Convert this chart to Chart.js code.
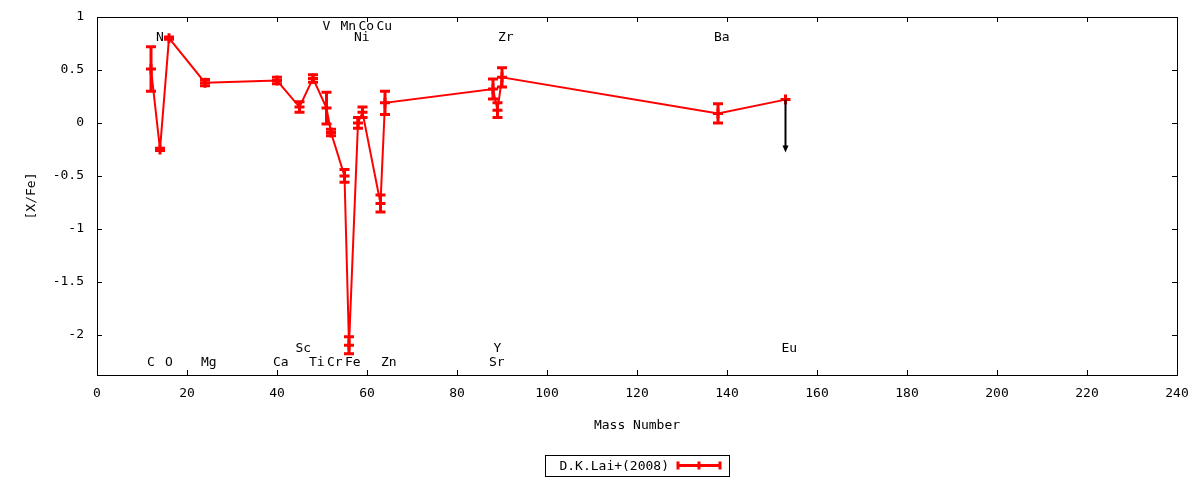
<!DOCTYPE html>
<html>
<head>
<meta charset="utf-8">
<script src="https://cdn.jsdelivr.net/npm/chart.js@4/dist/chart.umd.min.js"></script>
<style>
  html, body { margin: 0; padding: 0; background: #fff; }
  #wrap { width: 1200px; height: 480px; }
</style>
</head>
<body>
<div id="wrap"><canvas id="abund"></canvas></div>
<script>
// element abundances, D.K.Lai+(2008)
const elements = ['C', 'N', 'O', 'Mg', 'Ca', 'Sc', 'Ti', 'V', 'Cr', 'Mn', 'Fe', 'Ni', 'Co', 'Cu', 'Zn', 'Sr', 'Y', 'Zr', 'Ba', 'Eu'];
const massNumbers = [12, 14, 16, 24, 40, 45, 48, 51, 52, 55, 56, 58, 59, 63, 64, 88, 89, 90, 138, 153];
const xFe = [0.51, -0.25, 0.80, 0.38, 0.40, 0.15, 0.42, 0.14, -0.09, -0.50, -2.10, 0.00, 0.10, -0.76, 0.19, 0.32, 0.12, 0.43, 0.09, 0.22];
const xFeErr = [0.21, 0.01, 0.01, 0.03, 0.03, 0.05, 0.035, 0.15, 0.03, 0.06, 0.08, 0.05, 0.05, 0.08, 0.11, 0.095, 0.07, 0.09, 0.09, 0];
const upperLimit = [false, false, false, false, false, false, false, false, false, false, false, false, false, false, false, false, false, false, false, true];
// label rows: 1,2 above the data (top), 3,4 below (bottom)
const labelRow = [4, 2, 4, 4, 4, 3, 4, 1, 4, 1, 4, 2, 1, 1, 4, 4, 3, 2, 2, 3];
const xTicks = [0, 20, 40, 60, 80, 100, 120, 140, 160, 180, 200, 220, 240];
const yTicks = [1, 0.5, 0, -0.5, -1, -1.5, -2];

const FONT = '"DejaVu Sans Mono", "Liberation Mono", monospace';
const RED = '#ff0000';

const points = massNumbers.map((m, i) => ({ x: m, y: xFe[i] }));

const framePlugin = {
  id: 'frame',
  afterDraw(chart) {
    const { ctx, chartArea: a, scales: { x, y } } = chart;
    ctx.save();
    ctx.strokeStyle = '#000';
    ctx.lineWidth = 1;
    ctx.strokeRect(Math.round(a.left) + 0.5, Math.round(a.top) + 0.5,
      Math.round(a.right - a.left), Math.round(a.bottom - a.top));
    ctx.beginPath();
    xTicks.forEach(v => {
      const px = Math.round(x.getPixelForValue(v)) + 0.5;
      ctx.moveTo(px, a.bottom); ctx.lineTo(px, a.bottom - 5);
      ctx.moveTo(px, a.top); ctx.lineTo(px, a.top + 5);
    });
    yTicks.forEach(v => {
      const py = Math.round(y.getPixelForValue(v)) + 0.5;
      ctx.moveTo(a.left, py); ctx.lineTo(a.left + 5, py);
      ctx.moveTo(a.right, py); ctx.lineTo(a.right - 5, py);
    });
    ctx.stroke();
    ctx.restore();
  }
};

const errorBarPlugin = {
  id: 'errorBars',
  afterDatasetsDraw(chart) {
    const { ctx, scales: { x, y } } = chart;
    ctx.save();
    ctx.strokeStyle = RED;
    ctx.lineWidth = 3;
    massNumbers.forEach((m, i) => {
      if (upperLimit[i]) return;
      const px = x.getPixelForValue(m);
      const top = y.getPixelForValue(xFe[i] + xFeErr[i]);
      const bot = y.getPixelForValue(xFe[i] - xFeErr[i]);
      ctx.beginPath();
      ctx.moveTo(px, top); ctx.lineTo(px, bot);
      ctx.moveTo(px - 5, top); ctx.lineTo(px + 5, top);
      ctx.moveTo(px - 5, bot); ctx.lineTo(px + 5, bot);
      ctx.stroke();
    });
    // upper limit arrows
    ctx.strokeStyle = '#000';
    ctx.fillStyle = '#000';
    ctx.lineWidth = 2;
    massNumbers.forEach((m, i) => {
      if (!upperLimit[i]) return;
      const px = x.getPixelForValue(m);
      const y0 = y.getPixelForValue(xFe[i]);
      const y1 = y.getPixelForValue(xFe[i] - 0.5);
      ctx.beginPath();
      ctx.moveTo(px, y0); ctx.lineTo(px, y1 - 4);
      ctx.stroke();
      ctx.beginPath();
      ctx.moveTo(px - 3, y1 - 7); ctx.lineTo(px + 3, y1 - 7); ctx.lineTo(px, y1);
      ctx.closePath();
      ctx.fill();
    });
    ctx.restore();
  }
};

const elementLabelPlugin = {
  id: 'elementLabels',
  afterDraw(chart) {
    const { ctx, chartArea: a, scales: { x } } = chart;
    const rowY = { 1: a.top + 10, 2: a.top + 21, 3: a.bottom - 26, 4: a.bottom - 12 };
    ctx.save();
    ctx.font = '13px ' + FONT;
    ctx.fillStyle = '#000';
    ctx.textAlign = 'left';
    ctx.textBaseline = 'middle';
    elements.forEach((el, i) => {
      ctx.fillText(el, x.getPixelForValue(massNumbers[i]) - 4, rowY[labelRow[i]]);
    });
    ctx.restore();
  }
};

const legendPlugin = {
  id: 'boxLegend',
  afterDraw(chart) {
    const { ctx, chartArea: a } = chart;
    const label = chart.data.datasets[0].label;
    const cx = Math.round((a.left + a.right) / 2);
    const bx = cx - 92, by = 455, bw = 184, bh = 21;
    const cy = by + bh / 2;
    ctx.save();
    ctx.strokeStyle = '#000';
    ctx.lineWidth = 1;
    ctx.strokeRect(bx + 0.5, by + 0.5, bw, bh);
    ctx.font = '13px ' + FONT;
    ctx.fillStyle = '#000';
    ctx.textAlign = 'right';
    ctx.textBaseline = 'middle';
    ctx.fillText(label, bx + 124, cy + 1);
    const s0 = bx + 133, s1 = bx + 175, sm = (s0 + s1) / 2;
    ctx.strokeStyle = RED;
    ctx.lineWidth = 3;
    ctx.beginPath();
    ctx.moveTo(s0, cy); ctx.lineTo(s1, cy);
    ctx.moveTo(s0, cy - 4); ctx.lineTo(s0, cy + 4);
    ctx.moveTo(s1, cy - 4); ctx.lineTo(s1, cy + 4);
    ctx.moveTo(sm, cy - 4); ctx.lineTo(sm, cy + 4);
    ctx.stroke();
    ctx.restore();
  }
};

new Chart(document.getElementById('abund'), {
  type: 'scatter',
  data: {
    datasets: [{
      label: 'D.K.Lai+(2008)',
      data: points,
      showLine: true,
      borderColor: RED,
      backgroundColor: RED,
      borderWidth: 2,
      pointStyle: 'cross',
      pointRadius: 5,
      pointBorderWidth: 3,
      pointBorderColor: RED,
      tension: 0
    }]
  },
  options: {
    responsive: true,
    maintainAspectRatio: false,
    animation: false,
    layout: { padding: { left: 20, right: 23, top: 17, bottom: 43 } },
    plugins: {
      legend: { display: false },
      tooltip: { enabled: false }
    },
    scales: {
      x: {
        type: 'linear',
        min: 0,
        max: 240,
        grid: { display: false, drawTicks: false },
        border: { display: false },
        afterBuildTicks: s => { s.ticks = xTicks.map(v => ({ value: v })); },
        afterFit: s => { s.height = 62; s.paddingLeft = 0; s.paddingRight = 0; },
        ticks: {
          padding: 11,
          color: '#000',
          font: { family: FONT, size: 13 },
          maxRotation: 0,
          callback: v => String(v)
        },
        title: {
          display: true,
          text: 'Mass Number',
          color: '#000',
          font: { family: FONT, size: 13 },
          padding: { top: 0, bottom: 4 }
        }
      },
      y: {
        type: 'linear',
        min: -2.38,
        max: 1,
        grid: { display: false, drawTicks: false },
        border: { display: false },
        afterBuildTicks: s => { s.ticks = yTicks.map(v => ({ value: v })); },
        afterFit: s => { s.width = 77; s.paddingTop = 0; s.paddingBottom = 0; },
        ticks: {
          padding: 13,
          color: '#000',
          font: { family: FONT, size: 13 },
          callback: v => String(v)
        },
        title: {
          display: true,
          text: '[X/Fe]',
          color: '#000',
          font: { family: FONT, size: 13 },
          padding: { top: 4, bottom: 0 }
        }
      }
    }
  },
  plugins: [framePlugin, errorBarPlugin, elementLabelPlugin, legendPlugin]
});
</script>
</body>
</html>
